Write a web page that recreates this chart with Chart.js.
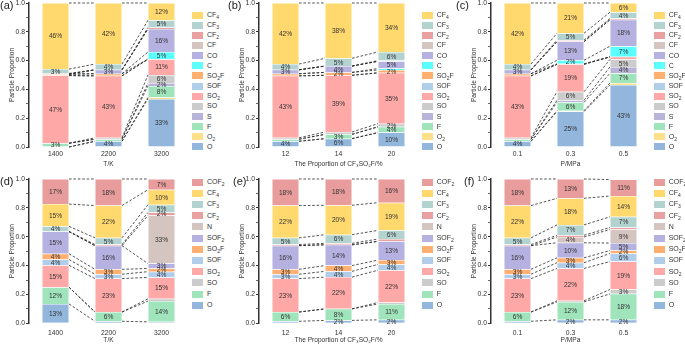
<!DOCTYPE html>
<html>
<head>
<meta charset="utf-8">
<script src="https://cdn.jsdelivr.net/npm/chart.js@4"></script>
<style>
  body { margin: 0; width: 685px; height: 344px; overflow: hidden; background: #fff; position: relative;
         font-family: "Liberation Sans", Arial, sans-serif; }
  canvas { position: absolute; }
  .lab { position: absolute; font-size: 11px; line-height: 12px; color: #222; }
  .item { position: absolute; font-size: 7px; color: #333; white-space: nowrap; height: 8px; line-height: 8px; }
  .item span { position: absolute; left: 0; top: 0.5px; width: 11px; height: 7px; }
  .item i { position: absolute; left: 15px; top: 0; font-style: normal; }
  sub { font-size: 5px; vertical-align: -1.5px; line-height: 0; }
</style>
</head>
<body>
<script>
// Espécies (de baixo para cima na pilha) e cores
const topSpecies = ['O', 'O₂', 'F', 'S', 'SO', 'SO₂', 'SOF', 'SO₂F', 'C', 'CO', 'CF', 'CF₂', 'CF₃', 'CF₄'];
const topColors  = ['#93b6dc', '#ffe08a', '#a0e4bc', '#b8b3d8', '#cccccc', '#ffa8a8', '#b0cdea', '#ffb070',
                    '#5cffff', '#b5b1e0', '#d4c5c0', '#e8a0a0', '#b3d3d0', '#ffd86e'];
const botSpecies = ['O', 'F', 'SO', 'SO₂', 'SOF', 'SO₂F', 'SOF₂', 'N', 'CF₂', 'CF₃', 'CF₄', 'COF₂'];
const botColors  = ['#93b6dc', '#a0e4bc', '#cccccc', '#ffa8a8', '#b0cdea', '#ffb070', '#b5b1e0', '#d4c5c0',
                    '#e8a0a0', '#b3d3d0', '#ffd86e', '#e89c9c'];

// Categorias do eixo x
const tempLabels  = ['1400', '2200', '3200'];
const ratioLabels = ['12', '14', '20'];
const pressLabels = ['0.1', '0.3', '0.5'];

// Valores: uma linha por espécie (mesma ordem de topSpecies / botSpecies)
const valoresA = [
  [0, 0.04, 0.334], [0, 0, 0.01], [0.026, 0.014, 0.08], [0, 0, 0.02], [0, 0.01, 0.056],
  [0.47, 0.43, 0.11], [0, 0, 0], [0.01, 0.015, 0], [0, 0, 0.05], [0, 0.027, 0.16],
  [0, 0, 0], [0.005, 0, 0.01], [0.03, 0.04, 0.05], [0.459, 0.424, 0.12]
];
const valoresB = [
  [0.04, 0.058, 0.1], [0, 0, 0], [0.014, 0.03, 0.04], [0, 0, 0], [0.01, 0.016, 0.022],
  [0.43, 0.394, 0.353], [0, 0, 0], [0.015, 0.02, 0.02], [0, 0, 0.01], [0.027, 0.044, 0.05],
  [0, 0, 0], [0, 0, 0.005], [0.04, 0.054, 0.06], [0.424, 0.384, 0.34]
];
const valoresC = [
  [0.04, 0.246, 0.43], [0, 0.006, 0.014], [0.014, 0.058, 0.068], [0, 0.014, 0.044], [0.01, 0.06, 0.052],
  [0.43, 0.19, 0.018], [0, 0, 0], [0.015, 0.004, 0], [0, 0.024, 0.074], [0.027, 0.13, 0.184],
  [0, 0, 0], [0, 0.01, 0.008], [0.04, 0.048, 0.044], [0.424, 0.21, 0.064]
];
const valoresD = [
  [0.134, 0.014, 0.01], [0.116, 0.064, 0.144], [0, 0, 0.016], [0.152, 0.232, 0.148],
  [0.04, 0.03, 0.04], [0.04, 0.034, 0.022], [0.154, 0.164, 0.034], [0, 0, 0.334],
  [0, 0.008, 0.02], [0.036, 0.046, 0.054], [0.154, 0.224, 0.104], [0.174, 0.184, 0.074]
];
const valoresE = [
  [0.014, 0.02, 0.024], [0.064, 0.08, 0.11], [0, 0, 0.01], [0.232, 0.22, 0.224],
  [0.03, 0.04, 0.04], [0.034, 0.04, 0.03], [0.164, 0.144, 0.13], [0, 0, 0],
  [0.008, 0.01, 0.016], [0.046, 0.06, 0.06], [0.224, 0.204, 0.192], [0.184, 0.182, 0.164]
];
const valoresF = [
  [0.014, 0.024, 0.024], [0.064, 0.124, 0.18], [0, 0.008, 0.03], [0.232, 0.224, 0.194],
  [0.03, 0.04, 0.056], [0.034, 0.034, 0.02], [0.164, 0.104, 0.052], [0, 0.04, 0.094],
  [0.008, 0.012, 0.014], [0.046, 0.072, 0.074], [0.224, 0.184, 0.144], [0.184, 0.134, 0.114]
];

const corTexto = '#333';
const fonteEixo = { family: 'Liberation Sans', size: 6.8 };
const fonteTitulo = { family: 'Liberation Sans', size: 6.6 };

// Linhas tracejadas entre os limites dos segmentos
const ligacoes = {
  id: 'ligacoes',
  afterDatasetsDraw(chart) {
    const ctx = chart.ctx, y = chart.scales.y;
    const sets = chart.data.datasets;
    const n = chart.data.labels.length;
    const meta0 = chart.getDatasetMeta(0);
    ctx.save();
    ctx.setLineDash([2.6, 1.8]);
    ctx.strokeStyle = '#2a2a2a';
    ctx.lineWidth = 0.8;
    for (let c = 0; c < n - 1; c++) {
      const b0 = meta0.data[c], b1 = meta0.data[c + 1];
      const x0 = b0.x + b0.width / 2, x1 = b1.x - b1.width / 2;
      let s0 = 0, s1 = 0;
      sets.forEach(ds => {
        s0 += ds.data[c]; s1 += ds.data[c + 1];
        ctx.beginPath();
        ctx.moveTo(x0, y.getPixelForValue(Math.min(s0, 1)));
        ctx.lineTo(x1, y.getPixelForValue(Math.min(s1, 1)));
        ctx.stroke();
      });
    }
    ctx.restore();
  }
};

// Rótulos de porcentagem dentro das barras
const rotulos = {
  id: 'rotulos',
  afterDatasetsDraw(chart) {
    const ctx = chart.ctx;
    ctx.save();
    ctx.font = '6.6px "Liberation Sans"';
    ctx.fillStyle = corTexto;
    ctx.textAlign = 'center';
    ctx.textBaseline = 'middle';
    chart.data.datasets.forEach((ds, i) => {
      chart.getDatasetMeta(i).data.forEach((bar, j) => {
        const v = ds.data[j];
        if (v < 0.019) return;
        ctx.fillText(Math.round(v * 100) + '%', bar.x, (bar.y + bar.base) / 2 + 0.5);
      });
    });
    ctx.restore();
  }
};

function comSub(nome) {
  return nome.replace(/[₀-₉]/g, c => '<sub>' + (c.charCodeAt(0) - 0x2080) + '</sub>');
}

function criarPainel(letra, eixoX, topo, altura, padTop, altX, padTick, padTitulo, cats, valores, especies, cores, tituloX, legY0, legPasso, labX, labY) {
  const canvas = document.createElement('canvas');
  canvas.width = 190; canvas.height = altura;
  canvas.style.left = (eixoX - 29) + 'px';
  canvas.style.top = topo + 'px';
  document.body.appendChild(canvas);

  new Chart(canvas.getContext('2d'), {
    type: 'bar',
    data: {
      labels: cats,
      datasets: especies.map((nome, k) => ({
        label: nome,
        data: valores[k],
        backgroundColor: cores[k],
        borderColor: '#ffffff',
        borderWidth: 0.5,
        barPercentage: 0.51,
        categoryPercentage: 1
      }))
    },
    options: {
      responsive: false,
      animation: false,
      layout: { padding: { top: padTop, right: 2, left: 0, bottom: 0 } },
      plugins: { legend: { display: false }, tooltip: { enabled: false } },
      scales: {
        x: {
          stacked: true,
          grid: { display: false, drawTicks: false },
          border: { display: false },
          ticks: { font: fonteEixo, color: corTexto, padding: padTick },
          title: { display: true, text: tituloX, font: fonteTitulo, color: corTexto, padding: { top: 0, bottom: padTitulo } },
          afterFit: s => { s.height = altX; s.paddingLeft = 0; s.paddingRight = 0; }
        },
        y: {
          stacked: true,
          min: 0, max: 1,
          ticks: {
            stepSize: 0.1, autoSkip: false, font: fonteEixo, color: corTexto, padding: 1,
            callback: v => (Math.round(v * 10) % 2 === 0 ? v.toFixed(1) : '')
          },
          grid: {
            drawOnChartArea: false, tickLength: 3, color: '#333',
            tickWidth: c => (Math.round(c.tick.value * 10) % 2 === 0 ? 1.1 : 0.7)
          },
          border: { color: '#333', width: 1.5 },
          title: { display: true, text: 'Particle Proportion', font: fonteTitulo, color: corTexto, padding: { top: 8, bottom: 0 } },
          afterFit: s => { s.width = 29; s.paddingTop = 0; s.paddingBottom = 0; }
        }
      }
    },
    plugins: [ligacoes, rotulos]
  });

  // legenda (ordem inversa: topo da pilha primeiro)
  const n = especies.length;
  for (let i = 0; i < n; i++) {
    const k = n - 1 - i;
    const item = document.createElement('div');
    item.className = 'item';
    item.style.left = (eixoX + 163) + 'px';
    item.style.top = (legY0 + i * legPasso - 4) + 'px';
    item.innerHTML = '<span style="background:' + cores[k] + '"></span><i>' + comSub(especies[k]) + '</i>';
    document.body.appendChild(item);
  }

  const lab = document.createElement('div');
  lab.className = 'lab';
  lab.style.left = labX + 'px';
  lab.style.top = labY + 'px';
  lab.textContent = '(' + letra + ')';
  document.body.appendChild(lab);
}

const tituloRazao = 'The Proportion of CF₃SO₂F/%';

criarPainel('a', 29, 0, 170, 3, 23, 3, 2, tempLabels, valoresA, topSpecies, topColors, 'T/K', 15, 10.15, 0, -1);
criarPainel('b', 258.7, 0, 170, 3, 23, 3, 2, ratioLabels, valoresB, topSpecies, topColors, tituloRazao, 15, 10.15, 228, -1);
criarPainel('c', 490.7, 0, 170, 3, 23, 3, 2, pressLabels, valoresC, topSpecies, topColors, 'P/MPa', 15, 10.15, 456, -1);
criarPainel('d', 29, 170, 174, 9, 20.7, 5.5, 0, tempLabels, valoresD, botSpecies, botColors, 'T/K', 182, 11.2, 0, 175);
criarPainel('e', 258.7, 170, 174, 9, 20.7, 5.5, 0, ratioLabels, valoresE, botSpecies, botColors, tituloRazao, 182, 11.2, 233, 175);
criarPainel('f', 490.7, 170, 174, 9, 20.7, 5.5, 0, pressLabels, valoresF, botSpecies, botColors, 'P/MPa', 182, 11.2, 464, 175);
</script>
</body>
</html>
